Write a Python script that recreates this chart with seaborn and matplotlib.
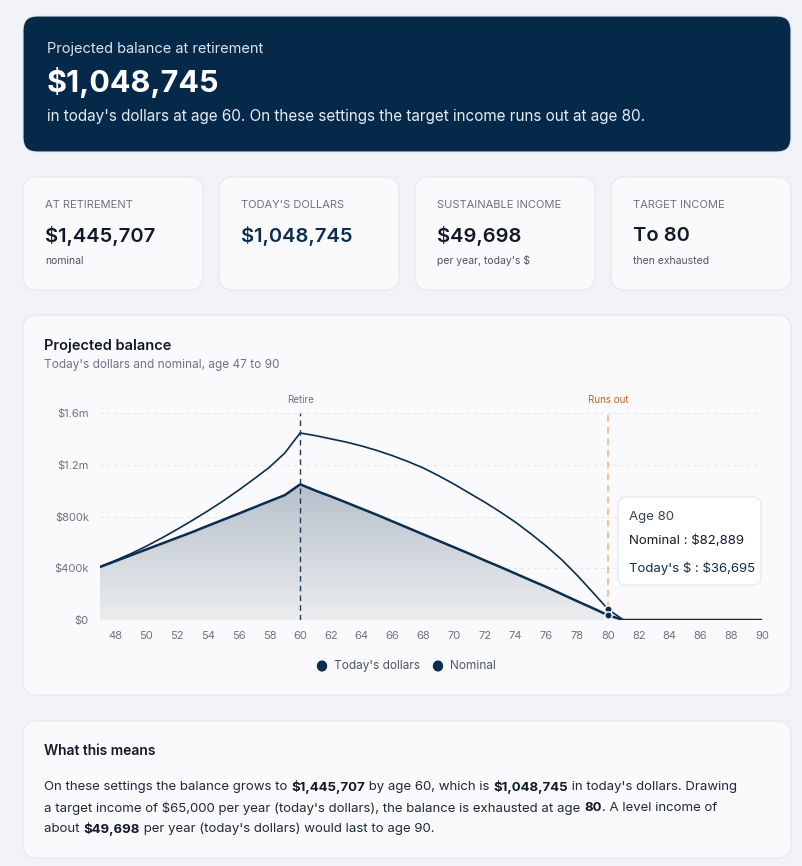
import numpy as np
import matplotlib.pyplot as plt
import seaborn as sns
from matplotlib.patches import FancyBboxPatch, Polygon
from matplotlib.ticker import FuncFormatter

# data
ages = list(range(47, 91))
todays = [410, 455, 500, 545, 590, 635, 680, 728, 775, 822, 870, 918, 965, 1048.745,
          1000, 955, 908, 860, 812, 762, 712, 662, 612, 562, 512, 460, 410, 358, 306,
          255, 200, 145, 92, 36.695] + [0] * 10
nominal = [410, 460, 512, 570, 633, 700, 770, 843, 920, 1003, 1090, 1180, 1290, 1445.707,
           1425, 1400, 1375, 1345, 1310, 1270, 1225, 1175, 1115, 1050, 980, 910, 835, 755,
           665, 570, 465, 345, 215, 82.889] + [0] * 10
todays = [v * 1000 for v in todays]
nominal = [v * 1000 for v in nominal]
retire_age, runout_age = 60, 80

W, H = 802, 866
sns.set_theme(style="white")
plt.rcParams['font.family'] = ['Inter', 'DejaVu Sans']
plt.rcParams['text.parse_math'] = False
fig = plt.figure(figsize=(W / 100, H / 100), dpi=100)
fig.patch.set_facecolor('#f2f3f6')

NAVY = '#0b2e4f'
GREY = '#6b7280'


def card(x, y, w, h, fc='#fafafc', r=14):
    p = FancyBboxPatch((x / W, 1 - (y + h) / H), w / W, h / H,
                       boxstyle=f"round,pad=0,rounding_size={r / W}",
                       transform=fig.transFigure, fc=fc, ec='#e5e7eb', lw=0.8,
                       mutation_aspect=W / H, zorder=0)
    fig.patches.append(p)
    return p


def txt(x, y, s, **kw):
    return fig.text(x / W, 1 - y / H, s, va='center', **kw)


# header
card(23, 16, 768, 136, fc='#06294a', r=14)
txt(47, 49, "Projected balance at retirement", color='#dbe4ee', fontsize=10.5)
txt(47, 82, "$1,048,745", color='white', fontsize=22, fontweight='bold')
txt(47, 116, "in today's dollars at age 60. On these settings the target income runs out at age 80.",
    color='#e5ecf3', fontsize=11)

# stat cards
stats = [("AT RETIREMENT", "$1,445,707", "nominal", '#111827'),
         ("TODAY'S DOLLARS", "$1,048,745", "", NAVY),
         ("SUSTAINABLE INCOME", "$49,698", "per year, today's $", '#111827'),
         ("TARGET INCOME", "To 80", "then exhausted", '#111827')]
for i, (lab, val, sub, col) in enumerate(stats):
    x0 = 23 + i * 196
    card(x0, 177, 180, 113)
    txt(x0 + 22, 205, lab, color=GREY, fontsize=8)
    txt(x0 + 22, 236, val, color=col, fontsize=14.5, fontweight='semibold')
    if sub:
        txt(x0 + 22, 261, sub, color='#4b5563', fontsize=7.5)

# chart card
card(23, 315, 768, 380)
txt(44, 346, "Projected balance", color='#111827', fontsize=10.5, fontweight='semibold')
txt(44, 365, "Today's dollars and nominal, age 47 to 90", color=GREY, fontsize=8.5)

ax = fig.add_axes([100 / W, 1 - 620 / H, 662 / W, 207 / H])
ax.set_zorder(2)
ax.set_facecolor('none')
ax.set_xlim(47, 90)
ax.set_ylim(0, 1.6e6)
ax.set_yticks([0, 4e5, 8e5, 1.2e6, 1.6e6])
ax.yaxis.set_major_formatter(FuncFormatter(
    lambda v, p: "$0" if v == 0 else (f"${v/1e6:g}m" if v >= 1e6 else f"${v/1e3:.0f}k")))
ax.set_xticks(range(48, 91, 2))
ax.tick_params(labelsize=8, colors=GREY, length=0, pad=8)
for s in ax.spines.values():
    s.set_visible(False)
for yv in [4e5, 8e5, 1.2e6, 1.6e6]:
    ax.axhline(yv, color='#e5e7eb', lw=0.8, ls=(0, (3, 3)), zorder=0)
ax.axhline(0, color='#e5e7eb', lw=1, zorder=0)

# gradient fill under today's dollars
grad = np.linspace(0.03, 0.35, 256).reshape(-1, 1)
im = ax.imshow(grad, extent=[47, 90, 0, 1.05e6], origin='lower', aspect='auto',
               cmap=sns.light_palette('#4a6583', as_cmap=True), vmin=0, vmax=1, zorder=1)
poly = Polygon(list(zip(ages, todays)) + [(90, 0), (47, 0)], closed=True,
               transform=ax.transData, fc='none', ec='none')
ax.add_patch(poly)
im.set_clip_path(poly)

sns.lineplot(x=ages, y=nominal, ax=ax, color=NAVY, lw=1.2, zorder=3)
sns.lineplot(x=ages, y=todays, ax=ax, color=NAVY, lw=1.8, zorder=3)
ax.plot([81, 90], [0, 0], color='#6b7f96', lw=2, zorder=2)

ax.axvline(retire_age, color='#1f3b5a', lw=1, ls=(0, (4, 3)), zorder=4)
ax.axvline(runout_age, color='#f0b58a', lw=1.2, ls=(0, (4, 3)), zorder=4)
ax.text(retire_age, 1.66e6, "Retire", ha='center', va='bottom', fontsize=7, color=GREY)
ax.text(runout_age, 1.66e6, "Runs out", ha='center', va='bottom', fontsize=7, color='#c2611f')
ax.scatter([runout_age, runout_age], [nominal[runout_age - 47], todays[runout_age - 47]],
           s=28, color=NAVY, edgecolor='white', lw=1, zorder=5)

# tooltip (drawn above the axes)
tip = card(618, 497, 143, 88, fc='white', r=8)
tip.set_zorder(5)
for yy, s, c in [(517, "Age 80", '#374151'), (541, "Nominal : $82,889", '#111827'),
                 (568, "Today's $ : $36,695", NAVY)]:
    txt(629, yy, s, color=c, fontsize=9.5).set_zorder(6)

# legend
for lx, lab in [(322, "Today's dollars"), (438, "Nominal")]:
    fig.patches.append(plt.Circle((lx / W, 1 - 666 / H), 4.5 / W, transform=fig.transFigure,
                                  color=NAVY))
    txt(lx + 12, 666, lab, color='#4b5563', fontsize=8.5)

# meaning card
card(23, 721, 768, 137)
txt(44, 751, "What this means", color='#111827', fontsize=10, fontweight='semibold')
lines = [[("On these settings the balance grows to ", False), ("$1,445,707", True),
          (" by age 60, which is ", False), ("$1,048,745", True),
          (" in today's dollars. Drawing", False)],
         [("a target income of $65,000 per year (today's dollars), the balance is exhausted at age ", False),
          ("80", True), (". A level income of", False)],
         [("about ", False), ("$49,698", True), (" per year (today's dollars) would last to age 90.", False)]]
renderer = fig.canvas.get_renderer()
for j, segs in enumerate(lines):
    x = 44
    for s, b in segs:
        t = txt(x, 787 + j * 21, s, color='#111827' if b else '#1f2937', fontsize=9.5,
                fontweight='bold' if b else 'normal')
        x += t.get_window_extent(renderer).width

fig.savefig('out.png', dpi=100, facecolor=fig.get_facecolor())
